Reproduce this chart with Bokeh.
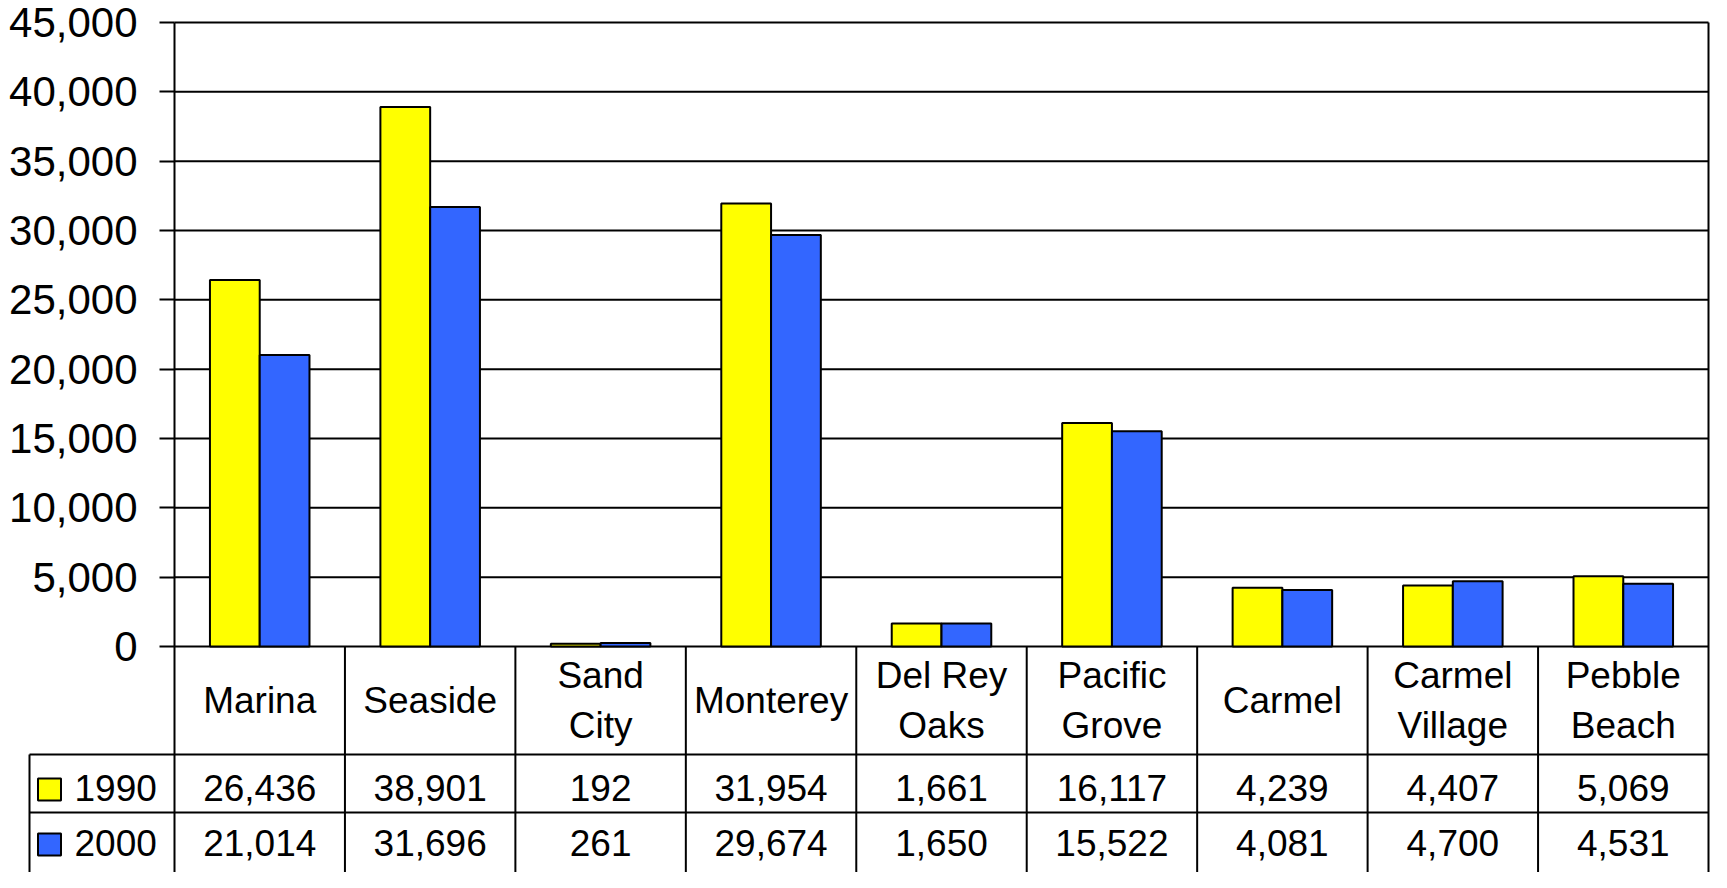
from bokeh.plotting import figure
from bokeh.models import Range1d, FixedTicker, NumeralTickFormatter, ColumnDataSource
from bokeh.embed import file_html
from bokeh.resources import INLINE
from bokeh.core.properties import value

# ---------------- data ----------------
cities = ["Marina", "Seaside", "Sand City", "Monterey", "Del Rey Oaks",
          "Pacific Grove", "Carmel", "Carmel Village", "Pebble Beach"]
header_labels = ["Marina", "Seaside", "Sand\nCity", "Monterey", "Del Rey\nOaks",
                 "Pacific\nGrove", "Carmel", "Carmel\nVillage", "Pebble\nBeach"]
years = ["1990", "2000"]
pop_1990 = [26436, 38901, 192, 31954, 1661, 16117, 4239, 4407, 5069]
pop_2000 = [21014, 31696, 261, 29674, 1650, 15522, 4081, 4700, 4531]
y_ticks = [0, 5000, 10000, 15000, 20000, 25000, 30000, 35000, 40000, 45000]
colors = ["#FFFF00", "#3366FF"]

# ---------------- layout constants (pixels inside the figure) ----------------
FONT = value("Liberation Sans")
W, H = 1711, 872
X0_PX, XN_PX = 174, 1708        # left / right edge of the category columns
YTOP_PX, YZERO_PX = 22, 646     # y of 45,000 and of 0
HEADER_H, ROW_H = 108, 58
LEG_L_PX = 29
LW = 2
BAR_W = 0.292

n = len(cities)
col_px = (XN_PX - X0_PX) / n
ymax = y_ticks[-1]
y_per_px = ymax / (YZERO_PX - YTOP_PX)


def below_zero(px):
    """data y of a point px pixels below the zero line"""
    return -px * y_per_px


p = figure(width=W, height=H,
           x_range=Range1d(-X0_PX / col_px, n + (W - XN_PX) / col_px),
           y_range=Range1d(below_zero(H - YZERO_PX), ymax + YTOP_PX * y_per_px),
           output_backend="svg", toolbar_location=None,
           x_axis_location=None,
           min_border=0, min_border_left=0, min_border_right=0,
           min_border_top=0, min_border_bottom=0)
p.background_fill_color = "white"
p.border_fill_color = "white"
p.outline_line_color = None
p.grid.visible = False

table_bottom = below_zero(HEADER_H + 3 * ROW_H)

# y axis drawn at the left edge of the category columns
ax = p.yaxis[0]
ax.fixed_location = 0
ax.bounds = (table_bottom, ymax)
ax.ticker = FixedTicker(ticks=y_ticks)
ax.formatter = NumeralTickFormatter(format="0,0")
ax.major_label_text_font = "Liberation Sans"
ax.major_label_text_font_size = "42px"
ax.major_label_text_color = "black"
ax.major_tick_out = 15
ax.major_tick_in = 0
ax.major_tick_line_color = "black"
ax.major_tick_line_width = LW
ax.minor_tick_line_color = None
ax.axis_line_color = "black"
ax.axis_line_width = LW
ax.major_label_standoff = 22

# horizontal grid lines (incl. top border and zero line)
p.segment(x0=[0] * len(y_ticks), y0=y_ticks, x1=[n] * len(y_ticks), y1=y_ticks,
          line_color="black", line_width=LW)

# bars
idx = list(range(n))
src = ColumnDataSource(dict(
    x1990=[i + 0.5 - BAR_W / 2 for i in idx],
    x2000=[i + 0.5 + BAR_W / 2 for i in idx],
    y1990=pop_1990, y2000=pop_2000))
p.vbar(x="x1990", top="y1990", width=BAR_W, fill_color=colors[0],
       line_color="black", line_width=LW, source=src)
p.vbar(x="x2000", top="y2000", width=BAR_W, fill_color=colors[1],
       line_color="black", line_width=LW, source=src)

# ---------------- data table ----------------
leg_x = -(X0_PX - LEG_L_PX) / col_px
# column separators (x = 1..n-1), right border reaches up to 45,000
p.segment(x0=list(range(1, n)), y0=[0] * (n - 1), x1=list(range(1, n)),
          y1=[table_bottom] * (n - 1), line_color="black", line_width=LW)
p.segment(x0=[n], y0=[ymax], x1=[n], y1=[table_bottom],
          line_color="black", line_width=LW)
# legend column left line
p.segment(x0=[leg_x], y0=[below_zero(HEADER_H)], x1=[leg_x], y1=[table_bottom],
          line_color="black", line_width=LW)
# row lines
row_y = [below_zero(HEADER_H), below_zero(HEADER_H + ROW_H)]
p.segment(x0=[leg_x] * 2, y0=row_y, x1=[n] * 2, y1=row_y,
          line_color="black", line_width=LW)

centers = [i + 0.5 for i in idx]
p.text(x=centers, y=[below_zero(HEADER_H / 2)] * n, text=header_labels,
       text_font=FONT, text_font_size="37px", text_color="black",
       text_align="center", text_baseline="middle", text_line_height=1.22)

series = [pop_1990, pop_2000]
row_shift = [4, 1]
for k, vals in enumerate(series):
    yc = below_zero(HEADER_H + ROW_H * (k + 0.5) + row_shift[k])
    p.text(x=centers, y=[yc] * n, text=[f"{v:,}" for v in vals],
           text_font=FONT, text_font_size="37px", text_color="black",
           text_align="center", text_baseline="middle")
    # legend swatch + label
    p.rect(x=[leg_x + 20 / col_px],
           y=[below_zero(HEADER_H + ROW_H * (k + 0.5) + row_shift[k] + 2)],
           width=23, height=22, width_units="screen", height_units="screen",
           fill_color=colors[k], line_color="black", line_width=LW)
    p.text(x=[leg_x + 45 / col_px], y=[yc], text=[years[k]],
           text_font=FONT, text_font_size="37px", text_color="black",
           text_align="left", text_baseline="middle")

open("out.html", "w").write(file_html(p, INLINE))
